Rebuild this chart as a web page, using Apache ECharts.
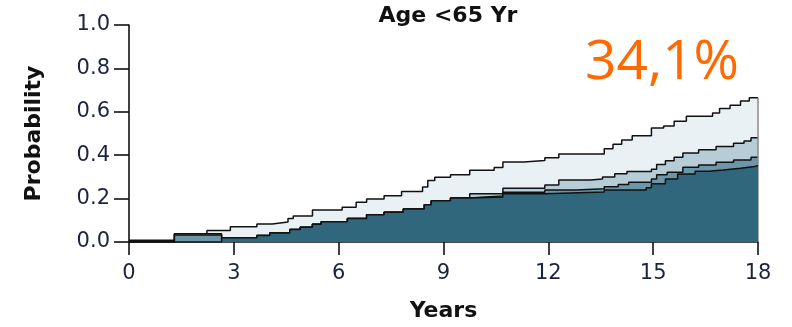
<!DOCTYPE html>
<html>
<head>
<meta charset="utf-8">
<script src="https://cdn.jsdelivr.net/npm/echarts@6/dist/echarts.min.js"></script>
<style>
html,body{margin:0;padding:0;background:#fff;}
#chart{width:792px;height:327px;}
</style>
</head>
<body>
<div id="chart"></div>
<script>
// Tick labels
var xTicks = [0, 3, 6, 9, 12, 15, 18];
var yTicks = [0.0, 0.2, 0.4, 0.6, 0.8, 1.0];

// Cumulative step curves (value holds from time to next time)
var tTop = [0, 1.3, 2.23, 2.9, 3.66, 4.1, 4.55, 4.7, 5.25, 6.1, 6.5, 6.8, 7.3, 7.8, 8.4, 8.55, 8.75, 9.2, 9.75, 10.45, 10.7, 11.3, 11.9, 12.3, 13.6, 13.85, 14.1, 14.4, 14.95, 15.3, 15.6, 15.95, 16.7, 16.9, 17.2, 17.5, 17.75, 18];
var pTop = [0.008, 0.038, 0.053, 0.07, 0.083, 0.092, 0.108, 0.12, 0.148, 0.16, 0.183, 0.198, 0.213, 0.233, 0.253, 0.283, 0.298, 0.31, 0.331, 0.343, 0.369, 0.376, 0.388, 0.405, 0.43, 0.45, 0.47, 0.49, 0.525, 0.535, 0.557, 0.58, 0.594, 0.615, 0.63, 0.65, 0.665, 0.665];

var tSecond = [0, 1.3, 2.65, 3.66, 4.03, 4.6, 4.9, 5.25, 5.5, 6.25, 6.8, 7.3, 7.85, 8.45, 8.65, 9.2, 9.75, 10.7, 11.9, 12.3, 13.2, 13.55, 13.9, 14.25, 14.95, 15.1, 15.35, 15.6, 15.85, 16.3, 16.8, 17.3, 17.6, 17.8, 18];
var pSecond = [0, 0.038, 0.02, 0.03, 0.042, 0.058, 0.068, 0.082, 0.093, 0.108, 0.126, 0.137, 0.152, 0.172, 0.19, 0.203, 0.222, 0.248, 0.263, 0.286, 0.29, 0.3, 0.315, 0.325, 0.335, 0.357, 0.375, 0.39, 0.41, 0.425, 0.44, 0.455, 0.465, 0.48, 0.48];

var tThird = [0, 1.3, 2.65, 3.66, 4.03, 4.6, 4.9, 5.25, 5.5, 6.25, 6.8, 7.3, 7.85, 8.45, 8.65, 9.2, 9.75, 10.7, 11.9, 12.8, 13.6, 14.0, 14.3, 14.95, 15.1, 15.4, 15.85, 16.3, 16.8, 17.3, 17.8, 18];
var pThird = [0, 0.032, 0.02, 0.03, 0.042, 0.058, 0.068, 0.082, 0.093, 0.108, 0.126, 0.137, 0.152, 0.172, 0.19, 0.203, 0.212, 0.229, 0.24, 0.245, 0.255, 0.265, 0.275, 0.29, 0.31, 0.322, 0.345, 0.355, 0.368, 0.378, 0.39, 0.39];

var tBottom = [0, 2.65, 3.66, 4.03, 4.6, 4.9, 5.25, 5.5, 6.25, 6.8, 7.3, 7.85, 8.45, 8.65, 9.2, 9.75, 10.7, 11.9, 13.6, 14.8, 14.95, 15.35, 15.7, 16.2, 16.6, 17.0, 17.5, 17.9, 18];
var pBottom = [0, 0.02, 0.03, 0.042, 0.058, 0.068, 0.082, 0.093, 0.108, 0.126, 0.137, 0.152, 0.172, 0.19, 0.203, 0.207, 0.222, 0.23, 0.24, 0.25, 0.268, 0.29, 0.313, 0.326, 0.332, 0.34, 0.348, 0.352, 0.352];

var titleText = 'Age <65 Yr';
var noteText = '34,1%';

function pairs(t, p) {
  var out = [];
  for (var i = 0; i < t.length; i++) out.push([t[i], p[i]]);
  return out;
}

var fills = ['#eaf1f5', '#b6ccd7', '#6d96a9', '#31677d'];
var curves = [[tTop, pTop], [tSecond, pSecond], [tThird, pThird], [tBottom, pBottom]];

var series = curves.map(function (c, i) {
  var s = {
    type: 'line',
    step: 'end',
    symbol: 'none',
    data: pairs(c[0], c[1]),
    lineStyle: { color: '#111', width: 1.5 },
    areaStyle: { color: fills[i], opacity: 1 },
    z: 2 + i,
    silent: true,
    animation: false
  };
  if (i === 0) {
    s.markLine = {
      symbol: 'none',
      silent: true,
      label: { show: false },
      lineStyle: { color: '#8a8a8a', width: 1.5, type: 'solid' },
      data: [[{ coord: [18, 0] }, { coord: [18, pTop[pTop.length - 1]] }]]
    };
  }
  return s;
});

var chart = echarts.init(document.getElementById('chart'), null, { renderer: 'canvas' });
chart.setOption({
  animation: false,
  backgroundColor: '#fff',
  title: [{
    text: titleText,
    left: 443, top: 0, textAlign: 'center',
    textStyle: { fontFamily: 'DejaVu Sans', fontWeight: 'bold', fontSize: 22, color: '#111' }
  }, {
    text: noteText,
    left: 580, top: 31,
    textStyle: { fontFamily: 'Open Sans', fontWeight: 'normal', fontSize: 55, color: '#ff6a00' }
  }],
  grid: { left: 129, right: 34, top: 25, bottom: 81, containLabel: false },
  xAxis: {
    type: 'value', min: 0, max: 18, interval: 3,
    name: 'Years', nameLocation: 'middle', nameGap: 58,
    nameTextStyle: { fontFamily: 'DejaVu Sans', fontWeight: 'bold', fontSize: 22, color: '#111' },
    axisLine: { show: true, lineStyle: { color: '#111', width: 1.6 } },
    axisTick: { show: true, inside: false, length: 13, lineStyle: { color: '#111', width: 1.6 } },
    axisLabel: { fontFamily: 'DejaVu Sans', fontSize: 21, color: '#1c2340', margin: 21,
      formatter: function (v) { return xTicks.indexOf(v) >= 0 ? String(v) : ''; } },
    splitLine: { show: false }
  },
  yAxis: {
    type: 'value', min: 0, max: 1, interval: 0.2,
    name: 'Probability', nameLocation: 'middle', nameGap: 84, nameRotate: 90,
    nameTextStyle: { fontFamily: 'DejaVu Sans', fontWeight: 'bold', fontSize: 22, color: '#111' },
    axisLine: { show: true, lineStyle: { color: '#111', width: 1.6 } },
    axisTick: { show: true, inside: false, length: 15, lineStyle: { color: '#111', width: 1.6 } },
    axisLabel: { fontFamily: 'DejaVu Sans', fontSize: 21, color: '#1c2340', margin: 19,
      formatter: function (v) {
        for (var i = 0; i < yTicks.length; i++) if (Math.abs(yTicks[i] - v) < 1e-9) return yTicks[i].toFixed(1);
        return '';
      } },
    splitLine: { show: false }
  },
  series: series
});
</script>
</body>
</html>
